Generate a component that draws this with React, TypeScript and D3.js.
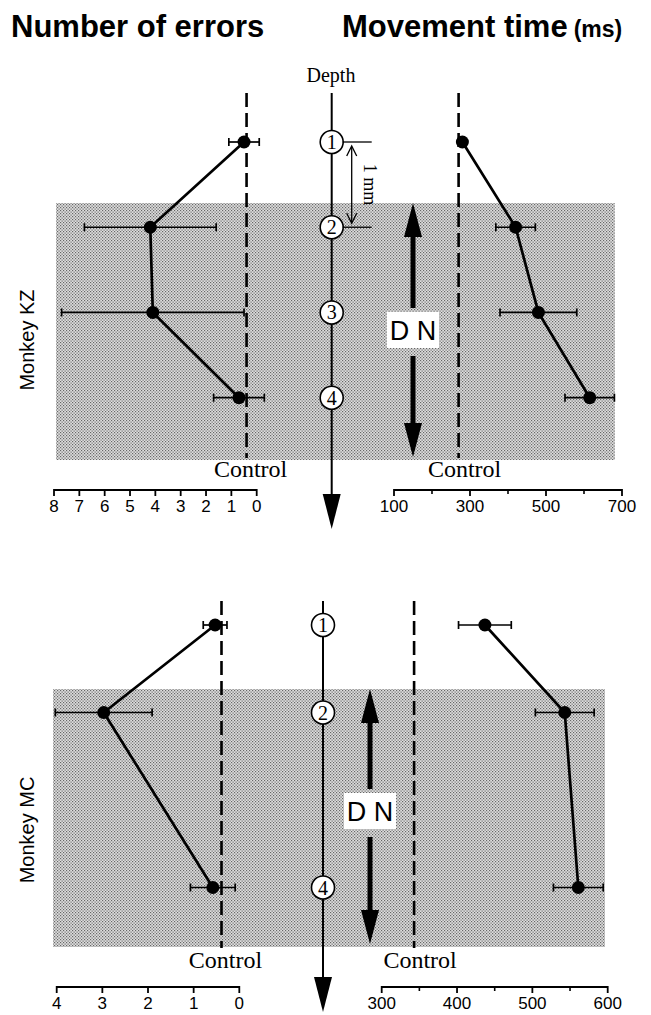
import React from "react";
import * as d3 from "d3";

// ---------- data ----------
const depthsKZ = [1, 2, 3, 4];
const errorsKZ = [0.5, 4.2, 4.1, 0.7];
const errorsSemKZ = [0.6, 2.6, 3.6, 1.0];
const timeKZ = [280, 420, 480, 615];
const timeSemKZ = [6, 52, 101, 65];
const controlErrorsKZ = 0.4;
const controlTimeKZ = 270;

const depthsMC = [1, 2, 4];
const errorsMC = [0.53, 2.97, 0.58];
const errorsSemMC = [0.26, 1.06, 0.49];
const timeMC = [437, 543, 561];
const timeSemMC = [35, 39, 33];
const controlErrorsMC = 0.39;
const controlTimeMC = 343;

const errorTicksKZ = [8, 7, 6, 5, 4, 3, 2, 1, 0];
const timeTicksKZ = [100, 300, 500, 700];
const timeMinorKZ = [200, 400, 600];
const errorTicksMC = [4, 3, 2, 1, 0];
const timeTicksMC = [300, 400, 500, 600];
const timeMinorMC = [350, 450, 550];

const depthMarksKZ = [1, 2, 3, 4];
const depthMarksMC = [1, 2, 4];

const SANS = "'Liberation Sans', Arial, Helvetica, sans-serif";
const SERIF = "'Liberation Serif', 'Times New Roman', serif";

type PanelProps = {
  label: string;
  depths: number[];
  errors: number[];
  errorsSem: number[];
  times: number[];
  timesSem: number[];
  controlErr: number;
  controlTime: number;
  errTicks: number[];
  timeTicks: number[];
  timeMinor: number[];
  depthMarks: number[];
  errRange: [number, number];
  errDomain: [number, number];
  timeRange: [number, number];
  timeDomain: [number, number];
  yRange: [number, number];
  shade: { x0: number; x1: number; y0: number; y1: number };
  depthX: number;
  lineTop: number;
  arrowTip: number;
  dashBottom: number;
  controlY: number;
  axisY: number;
  dnX: number;
  dnY: number;
  labelY: number;
  showMm: boolean;
};

function Arrow({ x, y1, y2, w, headLen, headW }: { x: number; y1: number; y2: number; w: number; headLen: number; headW: number }) {
  const dir = y2 > y1 ? 1 : -1;
  const base = y2 - dir * headLen;
  return (
    <g>
      <line x1={x} y1={y1} x2={x} y2={base + dir * 1} stroke="#000" strokeWidth={w} />
      <polygon points={`${x},${y2} ${x - headW},${base} ${x + headW},${base}`} fill="#000" />
    </g>
  );
}

function ErrBar({ a, b, yy }: { a: number; b: number; yy: number }) {
  return (
    <g>
      <line x1={a} x2={b} y1={yy} y2={yy} stroke="#000" strokeWidth={1.7} />
      <line x1={a} x2={a} y1={yy - 4} y2={yy + 4} stroke="#000" strokeWidth={1.7} />
      <line x1={b} x2={b} y1={yy - 4} y2={yy + 4} stroke="#000" strokeWidth={1.7} />
    </g>
  );
}

function Panel(p: PanelProps) {
  const ex = d3.scaleLinear().domain(p.errDomain).range(p.errRange);
  const tx = d3.scaleLinear().domain(p.timeDomain).range(p.timeRange);
  const y = d3.scaleLinear().domain([1, 4]).range(p.yRange);

  const errPts: [number, number][] = p.depths.map((d, i) => [ex(p.errors[i]), y(d)]);
  const timePts: [number, number][] = p.depths.map((d, i) => [tx(p.times[i]), y(d)]);
  const line = d3.line();

  const cx = ex(p.controlErr);
  const ctx = tx(p.controlTime);

  return (
    <g>
      <rect x={p.shade.x0} y={p.shade.y0} width={p.shade.x1 - p.shade.x0} height={p.shade.y1 - p.shade.y0} fill="url(#stipple)" />
      <line x1={cx} x2={cx} y1={p.lineTop} y2={p.dashBottom} stroke="#000" strokeWidth={2.6} strokeDasharray="14 6" />
      <line x1={ctx} x2={ctx} y1={p.lineTop} y2={p.dashBottom} stroke="#000" strokeWidth={2.6} strokeDasharray="14 6" />
      <text x={cx + 4} y={p.controlY} textAnchor="middle" fontFamily={SERIF} fontSize={24}>Control</text>
      <text x={ctx + 6} y={p.controlY} textAnchor="middle" fontFamily={SERIF} fontSize={24}>Control</text>

      <Arrow x={p.depthX} y1={p.lineTop} y2={p.arrowTip} w={2} headLen={35} headW={9} />
      {p.depthMarks.map((d) => (
        <g key={d}>
          <circle cx={p.depthX} cy={y(d)} r={11.5} fill="#fff" stroke="#000" strokeWidth={1.6} />
          <text x={p.depthX} y={y(d) + 7} textAnchor="middle" fontFamily={SERIF} fontSize={20}>{d}</text>
        </g>
      ))}

      {p.showMm && (
        <g>
          <line x1={p.depthX + 11} x2={p.depthX + 40} y1={y(1)} y2={y(1)} stroke="#000" strokeWidth={1.3} />
          <line x1={p.depthX + 11} x2={p.depthX + 40} y1={y(2)} y2={y(2)} stroke="#000" strokeWidth={1.3} />
          <line x1={p.depthX + 20} x2={p.depthX + 20} y1={y(1) + 5} y2={y(2) - 5} stroke="#000" strokeWidth={1.3} />
          <polyline points={`${p.depthX + 15},${y(1) + 14} ${p.depthX + 20},${y(1) + 4} ${p.depthX + 25},${y(1) + 14}`} fill="none" stroke="#000" strokeWidth={1.3} />
          <polyline points={`${p.depthX + 15},${y(2) - 14} ${p.depthX + 20},${y(2) - 4} ${p.depthX + 25},${y(2) - 14}`} fill="none" stroke="#000" strokeWidth={1.3} />
          <text transform={`translate(${p.depthX + 32},${(y(1) + y(2)) / 2}) rotate(90)`} textAnchor="middle" fontFamily={SERIF} fontSize={18}>1 mm</text>
        </g>
      )}

      <Arrow x={p.dnX} y1={p.dnY - 22} y2={p.shade.y0} w={5} headLen={34} headW={9} />
      <Arrow x={p.dnX} y1={p.dnY + 26} y2={p.shade.y1 - 3} w={5} headLen={34} headW={9} />
      <rect x={p.dnX - 26} y={p.dnY - 18} width={52} height={36} fill="#fff" />
      <text x={p.dnX} y={p.dnY + 10} textAnchor="middle" fontFamily={SANS} fontSize={27}>D N</text>

      {p.depths.map((d, i) => (
        <ErrBar key={"e" + d} a={ex(p.errors[i] - p.errorsSem[i])} b={ex(p.errors[i] + p.errorsSem[i])} yy={y(d)} />
      ))}
      {p.depths.map((d, i) => (
        <ErrBar key={"t" + d} a={tx(p.times[i] - p.timesSem[i])} b={tx(p.times[i] + p.timesSem[i])} yy={y(d)} />
      ))}
      <path d={line(errPts) || ""} fill="none" stroke="#000" strokeWidth={2.7} />
      <path d={line(timePts) || ""} fill="none" stroke="#000" strokeWidth={2.7} />
      {errPts.map((pt, i) => <circle key={"ed" + i} cx={pt[0]} cy={pt[1]} r={6.5} fill="#000" />)}
      {timePts.map((pt, i) => <circle key={"td" + i} cx={pt[0]} cy={pt[1]} r={6.5} fill="#000" />)}

      <line x1={p.errRange[0]} x2={p.errRange[1]} y1={p.axisY} y2={p.axisY} stroke="#000" strokeWidth={1.8} />
      {p.errTicks.map((t) => (
        <g key={"et" + t}>
          <line x1={ex(t)} x2={ex(t)} y1={p.axisY - 1} y2={p.axisY + 6} stroke="#000" strokeWidth={1.8} />
          <text x={ex(t)} y={p.axisY + 22} textAnchor="middle" fontFamily={SANS} fontSize={17}>{t}</text>
        </g>
      ))}
      <line x1={p.timeRange[0]} x2={p.timeRange[1]} y1={p.axisY} y2={p.axisY} stroke="#000" strokeWidth={1.8} />
      {p.timeTicks.map((t) => (
        <g key={"tt" + t}>
          <line x1={tx(t)} x2={tx(t)} y1={p.axisY - 1} y2={p.axisY + 6} stroke="#000" strokeWidth={1.8} />
          <text x={tx(t)} y={p.axisY + 22} textAnchor="middle" fontFamily={SANS} fontSize={17}>{t}</text>
        </g>
      ))}
      {p.timeMinor.map((t) => (
        <line key={"tm" + t} x1={tx(t)} x2={tx(t)} y1={p.axisY} y2={p.axisY + 4} stroke="#000" strokeWidth={1.6} />
      ))}

      <text transform={`translate(${34},${p.labelY}) rotate(-90)`} textAnchor="middle" fontFamily={SANS} fontSize={20}>{p.label}</text>
    </g>
  );
}

export default function App() {
  return (
    <svg width={651} height={1015} style={{ position: "absolute", left: 0, top: 0, background: "#fff" }}>
      <defs>
        <pattern id="stipple" width={3} height={3} patternUnits="userSpaceOnUse">
          <rect width={3} height={3} fill="#dedede" />
          <rect x={0} y={0} width={1.2} height={1.2} fill="#666" />
          <rect x={1.5} y={1.5} width={1.2} height={1.2} fill="#666" />
        </pattern>
      </defs>
      <rect width={651} height={1015} fill="#fff" />
      <text x={11} y={37} fontFamily={SANS} fontWeight="bold" fontSize={31}>Number of errors</text>
      <text x={342} y={37} fontFamily={SANS} fontWeight="bold" fontSize={31}>
        Movement time<tspan fontSize={23} dx={6}>(ms)</tspan>
      </text>
      <text x={331} y={82} textAnchor="middle" fontFamily={SERIF} fontSize={20}>Depth</text>

      <Panel
        label="Monkey KZ"
        depths={depthsKZ}
        errors={errorsKZ}
        errorsSem={errorsSemKZ}
        times={timeKZ}
        timesSem={timeSemKZ}
        controlErr={controlErrorsKZ}
        controlTime={controlTimeKZ}
        errTicks={errorTicksKZ}
        timeTicks={timeTicksKZ}
        timeMinor={timeMinorKZ}
        depthMarks={depthMarksKZ}
        errDomain={[8, 0]}
        errRange={[54, 256.7]}
        timeDomain={[100, 700]}
        timeRange={[394, 622]}
        yRange={[142, 397.7]}
        shade={{ x0: 56, x1: 615, y0: 203, y1: 460 }}
        depthX={331.7}
        lineTop={93}
        arrowTip={529}
        dashBottom={458}
        controlY={477}
        axisY={490}
        dnX={413}
        dnY={330}
        labelY={340}
        showMm={true}
      />
      <Panel
        label="Monkey MC"
        depths={depthsMC}
        errors={errorsMC}
        errorsSem={errorsSemMC}
        times={timeMC}
        timesSem={timeSemMC}
        controlErr={controlErrorsMC}
        controlTime={controlTimeMC}
        errTicks={errorTicksMC}
        timeTicks={timeTicksMC}
        timeMinor={timeMinorMC}
        depthMarks={depthMarksMC}
        errDomain={[4, 0]}
        errRange={[56.7, 239.3]}
        timeDomain={[300, 600]}
        timeRange={[381.7, 607.7]}
        yRange={[625, 887.5]}
        shade={{ x0: 53, x1: 605, y0: 689, y1: 947 }}
        depthX={323}
        lineTop={601}
        arrowTip={1012}
        dashBottom={948}
        controlY={968}
        axisY={987}
        dnX={370}
        dnY={811}
        labelY={830}
        showMm={false}
      />
    </svg>
  );
}
